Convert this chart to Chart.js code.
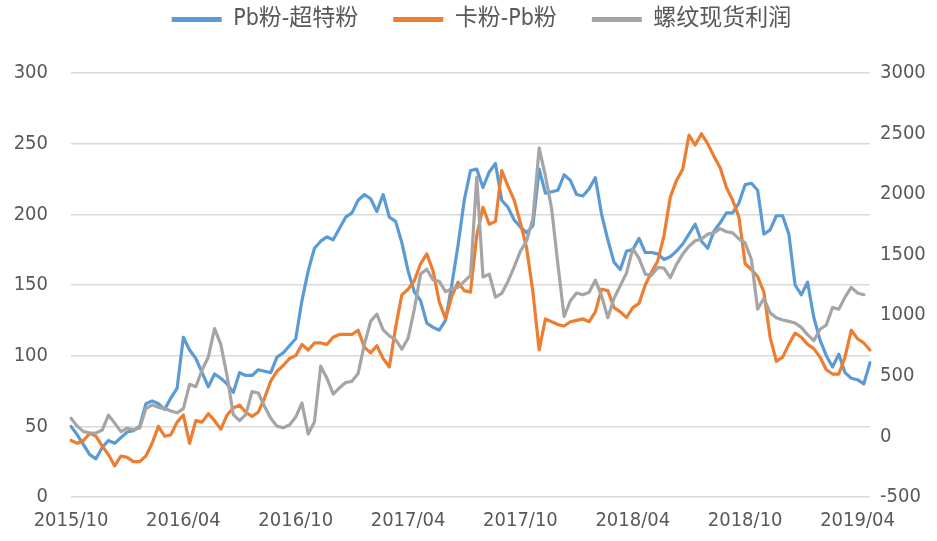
<!DOCTYPE html>
<html>
<head>
<meta charset="utf-8">
<script src="https://cdn.jsdelivr.net/npm/chart.js@4.4.1/dist/chart.umd.min.js"></script>
<style>
  html, body { margin: 0; padding: 0; background: #fff; }
  #wrap { width: 937px; height: 541px; }
</style>
</head>
<body>
<div id="wrap"><canvas id="grafico" width="937" height="541"></canvas></div>
<script>
// etiquetas del eje x (cada 6 meses)
const tickLabels = ['2015/10', '2016/04', '2016/10', '2017/04', '2017/10', '2018/04', '2018/10', '2019/04'];

// Pb粉-超特粉 (eje izquierdo)
const pbChao = [
  50, 44, 37, 30, 27, 35, 40, 38, 42, 46,
  47, 50, 66, 68, 66, 62, 70, 77, 113, 104,
  98, 88, 78, 87, 84, 80, 74, 88, 86, 86,
  90, 89, 88, 99, 102, 107, 112, 139, 160, 176,
  181, 184, 182, 190, 198, 201, 210, 214, 211, 202,
  214, 198, 195, 180, 160, 145, 139, 123, 120, 118,
  125, 150, 178, 210, 231, 232, 219, 230, 236, 210,
  205, 196, 191, 187, 192, 232, 215, 216, 217, 228,
  224, 214, 213, 218, 226, 200, 182, 166, 161, 174,
  175, 183, 173, 173, 172, 168, 170, 174, 179, 186,
  193, 181, 176, 188, 194, 201, 201, 208, 221, 222,
  217, 186, 189, 199, 199, 186, 150, 143, 152, 127,
  111, 100, 92, 101, 88, 84, 83, 80, 95
];

// 卡粉-Pb粉 (eje izquierdo)
const kaPb = [
  40, 38, 40, 45, 43, 36, 30, 22, 29, 28,
  25, 25, 29, 38, 50, 43, 44, 53, 58, 38,
  54, 53, 59, 54, 48, 58, 63, 65, 60, 57,
  60, 70, 82, 89, 93, 98, 100, 108, 104, 109,
  109, 108, 113, 115, 115, 115, 118, 106, 102, 107,
  98, 92, 120, 143, 147, 153, 165, 172, 160, 138,
  126, 142, 152, 146, 145, 185, 205, 193, 195, 231,
  220, 210, 194, 176, 145, 104, 126, 124, 122, 121,
  124, 125, 126, 124, 131, 147, 146, 134, 131, 127,
  134, 137, 150, 159, 167, 185, 212, 224, 232, 256,
  249, 257, 250, 241, 233, 219, 210, 198, 165, 161,
  156, 145, 113, 96, 99, 108, 116, 113, 108, 105,
  99, 90, 87, 87, 99, 118, 112, 109, 104
];

// 螺纹现货利润 (eje derecho)
const luowen = [
  150, 85, 40, 30, 28, 53, 175, 110, 40, 68,
  55, 70, 230, 260, 240, 230, 210, 195, 230, 430,
  410, 548, 656, 890, 760, 500, 180, 130, 180, 370,
  358, 250, 150, 85, 72, 95, 160, 276, 20, 120,
  580, 480, 350, 400, 445, 455, 520, 760, 950, 1010,
  880, 830, 800, 720, 810, 1050, 1340, 1380, 1291, 1280,
  1195, 1220, 1230, 1280, 1330, 2140, 1316, 1340, 1150, 1180,
  1280, 1400, 1530, 1615, 1800, 2380, 2150, 1880, 1420, 990,
  1120, 1184, 1170, 1190, 1290, 1160, 980, 1140, 1245, 1350,
  1550, 1470, 1340, 1330, 1395, 1390, 1310, 1420, 1505, 1570,
  1615, 1630, 1670, 1680, 1715, 1690, 1680, 1630, 1597, 1460,
  1050, 1140, 1020, 980, 961, 950, 936, 900, 840, 790,
  885, 920, 1065, 1050, 1150, 1230, 1184, 1170, null
];

// fechas: dias 01, 11 y 21 de cada mes
const fechas = [];
for (let m = 0; m < 43; m++) {
  const anio = 2015 + Math.floor((9 + m) / 12);
  const mes = String((9 + m) % 12 + 1).padStart(2, '0');
  ['01', '11', '21'].forEach(d => fechas.push(anio + '/' + mes + '/' + d));
}

const gris = '#595959';
const fuenteEje = { family: "'DejaVu Sans Condensed', 'DejaVu Sans', sans-serif", size: 20 };

// espacio entre la leyenda y el grafico, y leyenda un poco a la derecha
const espacioLeyenda = {
  id: 'espacioLeyenda',
  beforeInit(chart) {
    const fit = chart.legend.fit;
    chart.legend.fit = function () {
      fit.call(this);
      this.height = 100;
    };
  },
  afterLayout(chart) {
    chart.legend.left += 26;
  }
};

new Chart(document.getElementById('grafico'), {
  type: 'line',
  data: {
    labels: fechas,
    datasets: [
      { label: 'Pb粉-超特粉', data: pbChao, borderColor: '#5b9bd5', backgroundColor: '#5b9bd5', yAxisID: 'y', order: 2 },
      { label: '卡粉-Pb粉', data: kaPb, borderColor: '#ed7d31', backgroundColor: '#ed7d31', yAxisID: 'y', order: 1 },
      { label: '螺纹现货利润', data: luowen, borderColor: '#a5a5a5', backgroundColor: '#a5a5a5', yAxisID: 'y1', order: 0 }
    ]
  },
  options: {
    responsive: false,
    animation: false,
    layout: { padding: { top: -27, left: 0, right: 0, bottom: 0 } },
    elements: {
      line: { borderWidth: 3.2, tension: 0, borderJoinStyle: 'round', borderCapStyle: 'round' },
      point: { radius: 0 }
    },
    plugins: {
      tooltip: { enabled: false },
      legend: {
        position: 'top',
        labels: {
          boxWidth: 50,
          boxHeight: 5,
          padding: 35,
          color: gris,
          font: { family: "'DejaVu Sans Condensed', 'Noto Sans CJK SC', sans-serif", size: 23 },
          sort: (a, b) => a.datasetIndex - b.datasetIndex,
          generateLabels: chart => Chart.defaults.plugins.legend.labels.generateLabels(chart)
            .map(l => Object.assign(l, { lineWidth: 0 }))
        }
      }
    },
    scales: {
      x: {
        type: 'category',
        grid: { display: false, drawTicks: false },
        border: { display: false },
        ticks: {
          autoSkip: false,
          maxRotation: 0,
          minRotation: 0,
          padding: 12,
          color: gris,
          font: fuenteEje,
          callback: function (value) {
            const lbl = this.getLabelForValue(value);
            const mes = lbl.slice(0, 7);
            return (lbl.endsWith('/01') && tickLabels.includes(mes)) ? mes : null;
          }
        },
        afterFit: s => { s.height = 44; }
      },
      y: {
        position: 'left',
        min: 0,
        max: 300,
        ticks: { stepSize: 50, padding: 23, color: gris, font: fuenteEje, callback: v => String(v) },
        grid: { color: '#d9d9d9', lineWidth: 1.5, drawTicks: false },
        border: { display: false },
        afterFit: s => { s.width = 71; }
      },
      y1: {
        position: 'right',
        min: -500,
        max: 3000,
        ticks: { stepSize: 500, padding: 10, color: gris, font: fuenteEje, callback: v => String(v) },
        grid: { display: false, drawTicks: false },
        border: { display: false },
        afterFit: s => { s.width = 67; }
      }
    }
  },
  plugins: [espacioLeyenda]
});
</script>
</body>
</html>
